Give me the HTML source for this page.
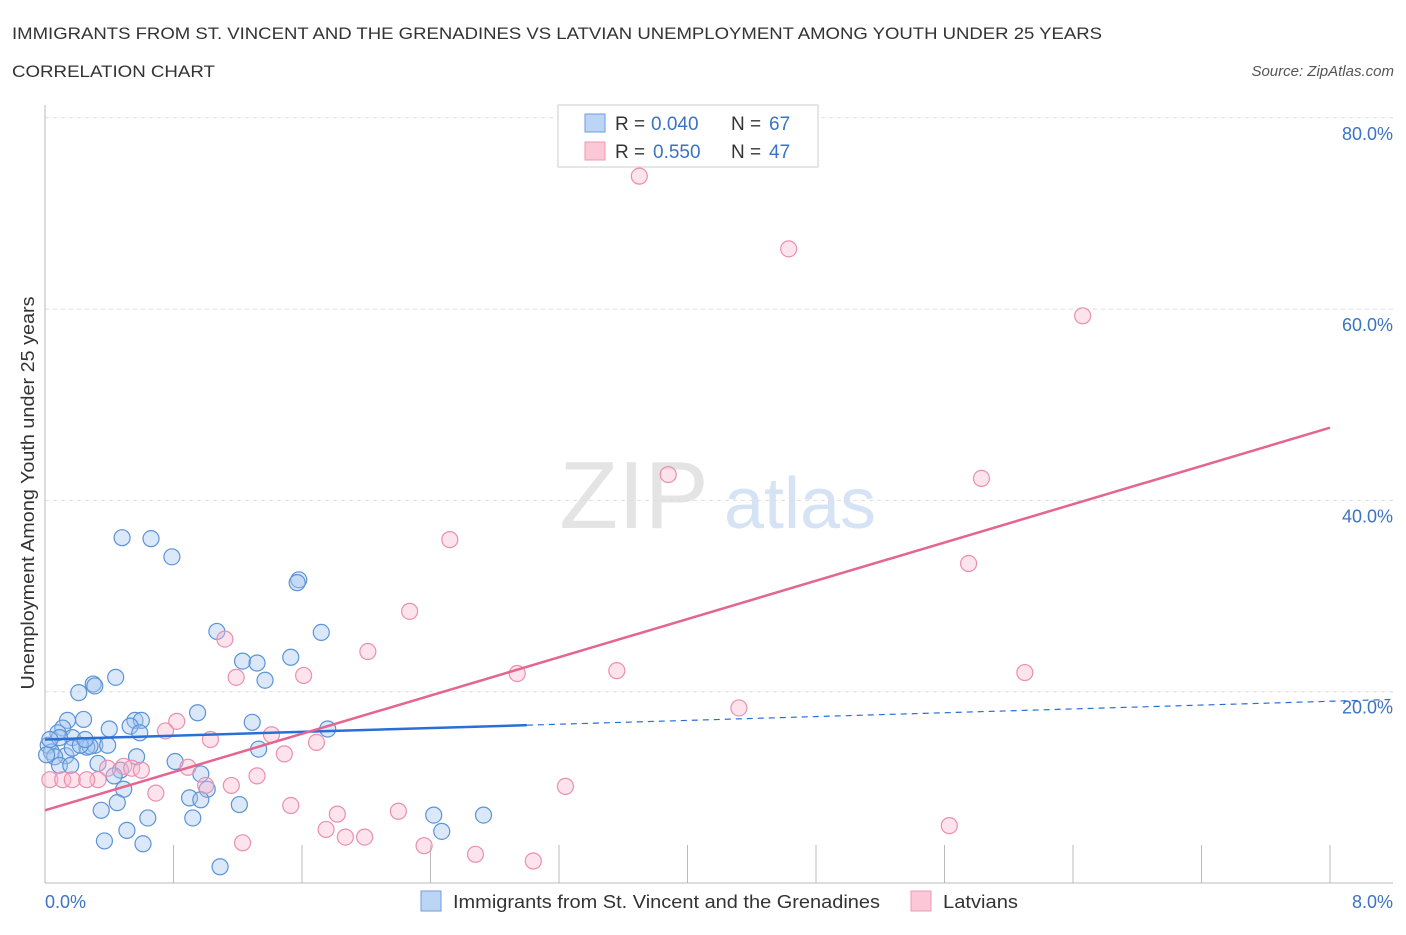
<!DOCTYPE html>
<html><head><meta charset="utf-8"><style>
body{margin:0;background:#fff;font-family:"Liberation Sans",sans-serif}
svg text{font-family:"Liberation Sans",sans-serif}
</style></head><body>
<svg id="chart" width="1406" height="930">
<text x="12" y="39" font-size="17" fill="#333" textLength="1090" lengthAdjust="spacingAndGlyphs">IMMIGRANTS FROM ST. VINCENT AND THE GRENADINES VS LATVIAN UNEMPLOYMENT AMONG YOUTH UNDER 25 YEARS</text>
<text x="12" y="77" font-size="17" fill="#333" textLength="203" lengthAdjust="spacingAndGlyphs">CORRELATION CHART</text>
<text x="1394" y="76" font-size="15" fill="#555" font-style="italic" text-anchor="end">Source: ZipAtlas.com</text>
<text x="634" y="528" font-size="96" fill="#e4e4e4" font-family="Liberation Serif" text-anchor="middle">ZIP</text>
<text x="800" y="528" font-size="72" fill="#d5e3f5" text-anchor="middle">atlas</text>
<text transform="translate(34,493) rotate(-90)" font-size="18" fill="#333" text-anchor="middle" textLength="393" lengthAdjust="spacingAndGlyphs">Unemployment Among Youth under 25 years</text>
<g id="grid"></g><g id="marks"></g>
<g>
<rect x="558" y="105" width="260" height="62" fill="#fff" stroke="#ccc"/>
<rect x="585" y="114" width="20" height="18" fill="#bcd5f5" stroke="#6b9ee0"/>
<rect x="585" y="142" width="20" height="18" fill="#fcc8d8" stroke="#ec9ab4"/>
<text y="130" font-size="19" fill="#333"><tspan x="615">R =</tspan><tspan x="651" fill="#3b73c4">0.040</tspan><tspan x="731">N =</tspan><tspan x="769" fill="#3b73c4">67</tspan></text>
<text y="158" font-size="19" fill="#333"><tspan x="615">R =</tspan><tspan x="653" fill="#3b73c4">0.550</tspan><tspan x="731">N =</tspan><tspan x="769" fill="#3b73c4">47</tspan></text>
</g>
<g>
<rect x="421" y="891" width="20" height="20" fill="#bcd5f5" stroke="#6b9ee0"/>
<text x="453" y="908" font-size="18" fill="#333" textLength="427" lengthAdjust="spacingAndGlyphs">Immigrants from St. Vincent and the Grenadines</text>
<rect x="911" y="891" width="20" height="20" fill="#fcc8d8" stroke="#ec9ab4"/>
<text x="943" y="908" font-size="18" fill="#333" textLength="75" lengthAdjust="spacingAndGlyphs">Latvians</text>
</g>
</svg>
<script>
const xTicks=[0,0.8,1.6,2.4,3.2,4.0,4.8,5.6,6.4,7.2,8.0];
const yTicks=[20,40,60,80];
const yTickLabels=["20.0%","40.0%","60.0%","80.0%"];
const blueX=[0.48,0.66,0.79,1.58,1.57,1.72,1.07,1.23,1.32,1.37,1.53,0.44,0.30,0.31,0.21,0.95,1.29,0.56,0.60,0.53,0.40,0.59,1.76,0.14,0.24,0.11,0.08,0.02,0.17,0.31,0.26,0.28,0.09,0.04,0.13,0.06,0.33,0.57,0.81,1.33,0.47,0.43,0.97,0.49,1.01,0.90,0.97,0.45,1.21,0.35,0.64,0.92,2.42,2.73,2.47,0.51,0.37,0.61,1.09,0.17,0.22,0.03,0.01,0.09,0.16,0.39,0.25];
const blueY=[36.1,36.0,34.1,31.7,31.4,26.2,26.3,23.2,23.0,21.2,23.6,21.5,20.8,20.6,19.9,17.8,16.8,17.0,17.0,16.4,16.1,15.7,16.1,17.0,17.1,16.2,15.7,14.4,15.2,14.4,14.2,14.3,15.2,13.7,13.3,13.2,12.5,13.2,12.7,14.0,11.8,11.2,11.4,9.8,9.8,8.9,8.7,8.4,8.2,7.6,6.8,6.8,7.1,7.1,5.4,5.5,4.4,4.1,1.7,14.1,14.4,15.0,13.4,12.3,12.3,14.4,15.0];
const pinkX=[3.70,4.63,6.46,3.88,5.83,2.52,5.75,2.27,1.12,2.01,1.61,1.19,2.94,3.56,6.10,0.82,0.75,1.03,1.41,4.32,1.69,1.49,0.89,0.39,0.49,0.54,0.60,1.32,1.16,1.00,0.69,3.24,1.53,2.20,1.82,1.75,1.87,1.99,1.23,2.36,2.68,3.04,5.63,0.03,0.11,0.17,0.33,0.26];
const pinkY=[73.9,66.3,59.3,42.7,42.3,35.9,33.4,28.4,25.5,24.2,21.7,21.5,21.9,22.2,22.0,16.9,15.9,15.0,15.5,18.3,14.7,13.5,12.1,12.0,12.2,12.0,11.8,11.2,10.2,10.2,9.4,10.1,8.1,7.5,7.2,5.6,4.8,4.8,4.2,3.9,3.0,2.3,6.0,10.8,10.8,10.8,10.8,10.8];
const blueTrend=[15.0,0.5];
const pinkTrend=[7.6,5.0];
const NS="http://www.w3.org/2000/svg";
const X=v=>45+v/8*1285, Y=v=>883-v/20*191.3;
function mk(p,tag,a){const e=document.createElementNS(NS,tag);for(const k in a)e.setAttribute(k,a[k]);p.appendChild(e);return e;}
const g=document.getElementById('grid'), m=document.getElementById('marks');
yTicks.forEach((t,i)=>{
 const l=mk(g,'line',{x1:45,x2:1393,y1:Y(t),y2:Y(t),stroke:'#ddd','stroke-dasharray':'4,4'});
 
 
 const tx=mk(g,'text',{x:1393,y:Y(t)+22,'font-size':18,fill:'#3b73c4','text-anchor':'end'});tx.textContent=yTickLabels[i];
 
 
});
const ax=mk(g,'line',{x1:45,x2:45,y1:105,y2:883,stroke:'#bbb'});


const bx=mk(g,'line',{x1:45,x2:1393,y1:883,y2:883,stroke:'#bbb'});


xTicks.forEach(t=>{const l=mk(g,'line',{x1:X(t),x2:X(t),y1:845,y2:883,stroke:'#bbb'});
 
 });
const xl0=mk(g,'text',{x:45,y:908,'font-size':18,fill:'#3b73c4'});xl0.textContent='0.0%';


const xl1=mk(g,'text',{x:1393,y:908,'font-size':18,fill:'#3b73c4','text-anchor':'end'});xl1.textContent='8.0%';


function pts(xs,ys,fill,stroke,name){xs.forEach((x,i)=>{const c=mk(m,'circle',{cx:X(x),cy:Y(ys[i]),r:8,fill:fill,stroke:stroke,'stroke-width':1.2});
 
 });}
pts(blueX,blueY,'rgba(165,198,240,0.4)','#5b93d6','point-immigrants');
pts(pinkX,pinkY,'rgba(250,185,205,0.4)','#eb8fae','point-latvians');
const bf=v=>blueTrend[0]+blueTrend[1]*v, pf=v=>pinkTrend[0]+pinkTrend[1]*v;
const b1=mk(m,'line',{x1:X(0),y1:Y(bf(0)),x2:X(3),y2:Y(bf(3)),stroke:'#2a6fd6','stroke-width':2.5});


const b2=mk(m,'line',{x1:X(3),y1:Y(bf(3)),x2:X(8.39),y2:Y(bf(8.39)),stroke:'#2a6fd6','stroke-width':1.2,'stroke-dasharray':'6,5'});


const p1=mk(m,'line',{x1:X(0),y1:Y(pf(0)),x2:X(8),y2:Y(pf(8)),stroke:'#e4668f','stroke-width':2.5});


</script>
</body></html>
